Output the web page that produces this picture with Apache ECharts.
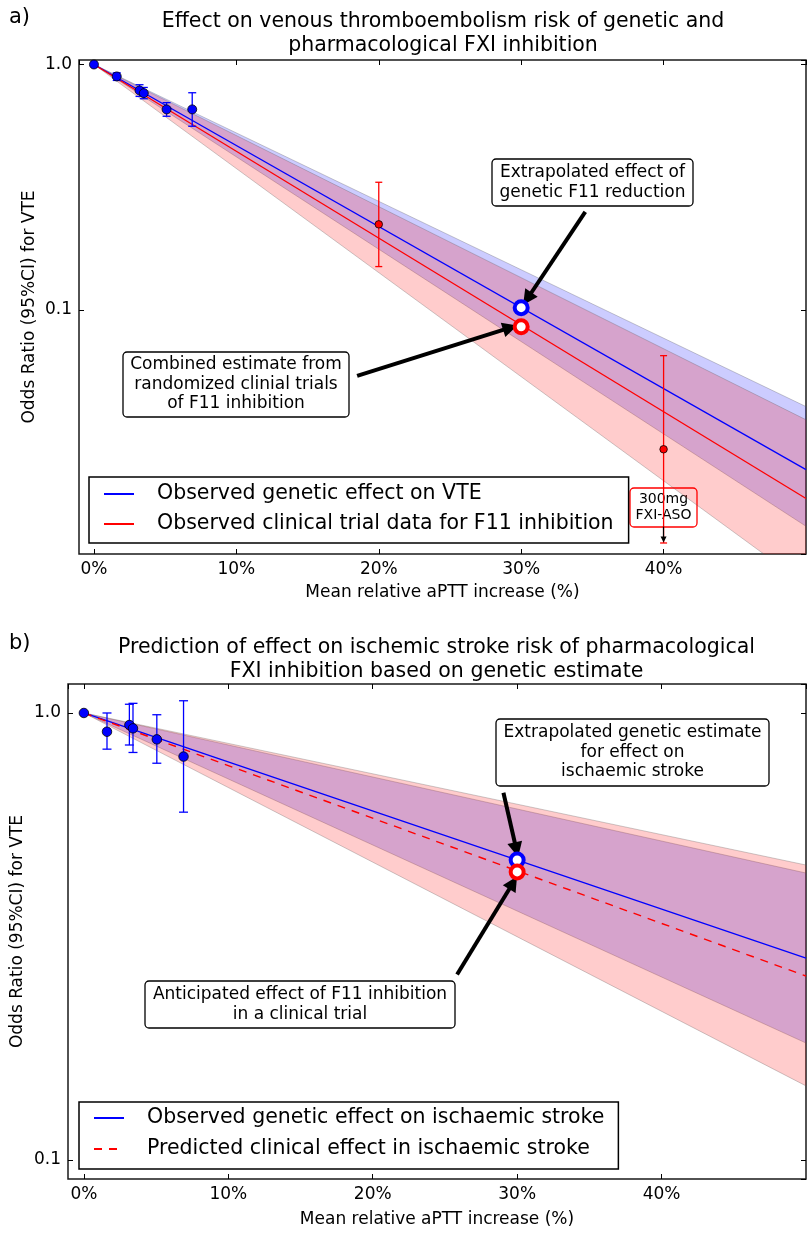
<!DOCTYPE html>
<html>
<head>
<meta charset="utf-8">
<title>FXI inhibition: odds ratio vs aPTT increase</title>
<script src="https://cdn.jsdelivr.net/npm/echarts@6/dist/echarts.min.js"></script>
<style>
  html, body { margin: 0; padding: 0; background: #fff; }
  #main { width: 807px; height: 1234px; }
</style>
</head>
<body>
<div id="main"></div>
<script>
const FONT = 'DejaVu Sans'

// ---- a) venous thromboembolism  (x: mean relative aPTT increase in %, y: odds ratio) ----
const vteGeneticPoints = [[0, 1.0], [1.6, 0.894], [3.2, 0.784], [3.5, 0.764], [5.1, 0.656], [6.9, 0.656]]
const vteGeneticCI = [[1.6, 0.861, 0.925], [3.2, 0.741, 0.827], [3.5, 0.725, 0.806], [5.1, 0.615, 0.699], [6.9, 0.560, 0.767]]
const vteTrialPoints = [[20, 0.223], [40, 0.027]]
const vteTrialCI = [[20, 0.150, 0.331], [40, 0.0112, 0.065]]
const vteGeneticLine = [[0, 1], [50, 0.0223]]
const vteTrialLine = [[0, 1], [50, 0.0170]]
const vteGeneticBand = [[0, 1, 1], [50, 0.0131, 0.0403]]   // x, lower, upper
const vteTrialBand = [[0, 1, 1], [50, 0.00756, 0.0356]]
const vteGeneticAt30 = [[30, 0.102]]
const vteTrialAt30 = [[30, 0.0853]]
const vteArrows = [[[34.5, 0.2507], [30.43, 0.1109]], [[18.48, 0.0538], [29.23, 0.0845]]]
const vteSmallArrow = [[40, 0.01306], [40, 0.01157]]

// ---- b) ischaemic stroke ----
const isGeneticPoints = [[0, 1.0], [1.6, 0.908], [3.15, 0.940], [3.4, 0.924], [5.05, 0.873], [6.9, 0.799]]
const isGeneticCI = [[1.6, 0.830, 1.0], [3.15, 0.848, 1.046], [3.4, 0.816, 1.051], [5.05, 0.772, 0.991], [6.9, 0.600, 1.065]]
const isGeneticLine = [[0, 1], [50, 0.283]]
const isPredLine = [[0, 1], [50, 0.258]]
const isGeneticBand = [[0, 1, 1], [50, 0.1827, 0.4385]]
const isPredBand = [[0, 1, 1], [50, 0.1465, 0.457]]
const isGeneticAt30 = [[30, 0.469]]
const isPredAt30 = [[30, 0.441]]
const isArrows = [[[29.05, 0.663], [29.95, 0.4945]], [[25.84, 0.260], [29.72, 0.417]]]

const BLUE = '#0000ff'
const RED = '#ff0000'

function pctLabel(v) {
  return (v >= 0 && v <= 40 && Math.abs(v / 10 - Math.round(v / 10)) < 1e-9) ? Math.round(v) + '%' : ''
}
function orLabel(v) {
  const l = Math.log10(v)
  return Math.abs(l - Math.round(l)) < 1e-6 ? v.toFixed(1) : ''
}

function xAxisFor(gi, min, pos, nameGap) {
  const main = pos === 'bottom'
  return {
    type: 'value', gridIndex: gi, min: min, max: 50, position: pos,
    name: main ? 'Mean relative aPTT increase (%)' : '',
    nameLocation: 'middle', nameGap: nameGap, nameMoveOverlap: false,
    nameTextStyle: { fontFamily: FONT, fontSize: 17, color: '#000' },
    axisLine: { show: false, onZero: false },
    axisTick: { show: true, inside: true, length: 5, lineStyle: { color: '#000' } },
    splitLine: { show: false },
    axisLabel: { show: main, showMinLabel: false, showMaxLabel: false, margin: 7,
      fontFamily: FONT, fontSize: 17, color: '#000', formatter: pctLabel }
  }
}
function yAxisFor(gi, min, max, pos, nameGap) {
  const main = pos === 'left'
  return {
    type: 'log', logBase: 10, gridIndex: gi, min: min, max: max, position: pos,
    name: main ? 'Odds Ratio (95%CI) for VTE' : '',
    nameLocation: 'middle', nameGap: nameGap, nameMoveOverlap: false,
    nameTextStyle: { fontFamily: FONT, fontSize: 17, color: '#000' },
    axisLine: { show: false, onZero: false },
    axisTick: { show: true, inside: true, length: 5, lineStyle: { color: '#000' } },
    minorTick: { show: false },
    splitLine: { show: false },
    axisLabel: { show: main, showMinLabel: false, showMaxLabel: false, margin: 7,
      fontFamily: FONT, fontSize: 17, color: '#000', formatter: orLabel }
  }
}

function bandSeries(band, fill, ax) {
  return {
    type: 'custom', xAxisIndex: ax, yAxisIndex: ax, clip: true, silent: true, z: 1,
    data: band,
    renderItem: function (params, api) {
      if (params.dataIndex !== 0) return null
      const upper = band.map(r => api.coord([r[0], r[2]]))
      const lower = band.map(r => api.coord([r[0], r[1]])).reverse()
      return {
        type: 'polygon', shape: { points: upper.concat(lower) },
        style: { fill: fill, stroke: 'rgba(90,90,90,0.3)', lineWidth: 1 }
      }
    }
  }
}

function ciSeries(ci, color, ax, cap) {
  return {
    type: 'custom', xAxisIndex: ax, yAxisIndex: ax, silent: true, z: 3,
    data: ci,
    renderItem: function (params, api) {
      const lo = api.coord([api.value(0), api.value(1)])
      const hi = api.coord([api.value(0), api.value(2)])
      const s = { stroke: color, lineWidth: 1.3 }
      return {
        type: 'group', children: [
          { type: 'line', shape: { x1: lo[0], y1: lo[1], x2: hi[0], y2: hi[1] }, style: s },
          { type: 'line', shape: { x1: lo[0] - cap, y1: lo[1], x2: lo[0] + cap, y2: lo[1] }, style: s },
          { type: 'line', shape: { x1: hi[0] - cap, y1: hi[1], x2: hi[0] + cap, y2: hi[1] }, style: s }
        ]
      }
    }
  }
}

function dots(data, color, size, ax) {
  return {
    type: 'scatter', xAxisIndex: ax, yAxisIndex: ax, data: data, symbolSize: size, silent: true, z: 4,
    itemStyle: { color: color, borderColor: '#000', borderWidth: 0.8, opacity: 1 }
  }
}
function ring(data, color, ax) {
  return {
    type: 'scatter', xAxisIndex: ax, yAxisIndex: ax, data: data, symbolSize: 13, silent: true, z: 5,
    itemStyle: { color: '#fff', borderColor: color, borderWidth: 4, opacity: 1 }
  }
}
function arrows(list, width, size) {
  return {
    silent: true, symbol: ['none', 'triangle'], symbolSize: size,
    label: { show: false }, emphasis: { disabled: true },
    lineStyle: { color: '#000', width: width, type: 'solid' },
    data: list.map(a => [{ coord: a[0] }, { coord: a[1] }])
  }
}

function noteBox(x, y, w, h, text, opt) {
  opt = opt || {}
  return {
    type: 'group', x: x, y: y, z: 100,
    children: [
      { type: 'rect', shape: { x: 0, y: 0, width: w, height: h, r: 4 },
        style: { fill: '#fff', stroke: opt.stroke || '#000', lineWidth: 1.3 } },
      { type: 'text', x: w / 2, y: h / 2,
        style: { text: text, fill: '#000', fontFamily: FONT, fontSize: opt.size || 17,
          lineHeight: opt.lh || 19.5, align: 'center', verticalAlign: 'middle' } }
    ]
  }
}
function label(x, y, text, size, align, lh) {
  return {
    type: 'text', x: x, y: y, z: 100,
    style: { text: text, fill: '#000', fontFamily: FONT, fontSize: size,
      lineHeight: lh || size * 1.2, align: align, verticalAlign: 'top' }
  }
}

function legendFor(names, top, left, pad, gap) {
  return {
    data: names, orient: 'vertical', left: left, top: top,
    itemWidth: 30, itemHeight: 14, itemGap: gap, padding: pad,
    borderColor: '#000', borderWidth: 1.5, backgroundColor: '#fff',
    selectedMode: false, z: 50,
    itemStyle: { opacity: 0, borderWidth: 0 },
    formatter: name => '{p| }' + name,
    textStyle: { fontFamily: FONT, fontSize: 20.5, color: '#000', lineHeight: 24, rich: { p: { width: 18 } } }
  }
}

const chart = echarts.init(document.getElementById('main'), null, { renderer: 'canvas' })

chart.setOption({
  animation: false,
  backgroundColor: '#fff',
  grid: [
    { left: 79, top: 60, width: 727, height: 494, show: true, borderColor: '#1a1a1a', borderWidth: 1.5, backgroundColor: 'transparent' },
    { left: 68, top: 684, width: 738, height: 495, show: true, borderColor: '#1a1a1a', borderWidth: 1.5, backgroundColor: 'transparent' }
  ],
  xAxis: [
    xAxisFor(0, -1.05, 'bottom', 30),
    xAxisFor(1, -1.1, 'bottom', 32),
    xAxisFor(0, -1.05, 'top', 0),
    xAxisFor(1, -1.1, 'top', 0)
  ],
  yAxis: [
    yAxisFor(0, 0.0101, 1.043, 'left', 40.5),
    yAxisFor(1, 0.0907, 1.161, 'left', 41.5),
    yAxisFor(0, 0.0101, 1.043, 'right', 0),
    yAxisFor(1, 0.0907, 1.161, 'right', 0)
  ],
  legend: [
    legendFor(['Observed genetic effect on VTE', 'Observed clinical trial data for F11 inhibition'], 477, 89, [5, 15, 7, 14], 6),
    legendFor(['Observed genetic effect on ischaemic stroke', 'Predicted clinical effect in ischaemic stroke'], 1102, 79, [4, 14, 8, 14], 7)
  ],
  graphic: [
    label(9, 5, 'a)', 21, 'left'),
    label(443, 10, 'Effect on venous thromboembolism risk of genetic and\npharmacological FXI inhibition', 20.5, 'center', 24),
    label(9, 631, 'b)', 21, 'left'),
    label(436.5, 636, 'Prediction of effect on ischemic stroke risk of pharmacological\nFXI inhibition based on genetic estimate', 20.5, 'center', 24),
    noteBox(492, 159, 201, 47, 'Extrapolated effect of\ngenetic F11 reduction'),
    noteBox(123, 352, 226, 65, 'Combined estimate from\nrandomized clinial trials\nof F11 inhibition'),
    noteBox(630, 488, 67, 39, '300mg\nFXI-ASO', { stroke: RED, size: 14, lh: 16 }),
    noteBox(496, 719, 273, 67, 'Extrapolated genetic estimate\nfor effect on\nischaemic stroke'),
    noteBox(145, 981, 310, 47, 'Anticipated effect of F11 inhibition\nin a clinical trial')
  ],
  series: [
    // a)
    bandSeries(vteGeneticBand, 'rgba(0,0,255,0.2)', 0),
    bandSeries(vteTrialBand, 'rgba(255,0,0,0.2)', 0),
    {
      name: 'Observed genetic effect on VTE', type: 'line', xAxisIndex: 0, yAxisIndex: 0,
      data: vteGeneticLine, symbol: 'none', silent: true, z: 2,
      lineStyle: { color: BLUE, width: 1.3 }, itemStyle: { color: BLUE },
      markLine: arrows(vteArrows, 4, 15)
    },
    {
      name: 'Observed clinical trial data for F11 inhibition', type: 'line', xAxisIndex: 0, yAxisIndex: 0,
      data: vteTrialLine, symbol: 'none', silent: true, z: 2,
      lineStyle: { color: RED, width: 1.3 }, itemStyle: { color: RED },
      markLine: arrows([vteSmallArrow], 1.2, 6)
    },
    ciSeries(vteGeneticCI, BLUE, 0, 4),
    ciSeries(vteTrialCI, RED, 0, 3.5),
    dots(vteGeneticPoints, BLUE, 9, 0),
    dots(vteTrialPoints, RED, 7.5, 0),
    ring(vteGeneticAt30, BLUE, 0),
    ring(vteTrialAt30, RED, 0),

    // b)
    bandSeries(isGeneticBand, 'rgba(0,0,255,0.2)', 1),
    bandSeries(isPredBand, 'rgba(255,0,0,0.2)', 1),
    {
      name: 'Observed genetic effect on ischaemic stroke', type: 'line', xAxisIndex: 1, yAxisIndex: 1,
      data: isGeneticLine, symbol: 'none', silent: true, z: 2,
      lineStyle: { color: BLUE, width: 1.3 }, itemStyle: { color: BLUE },
      markLine: arrows(isArrows, 4, 15)
    },
    {
      name: 'Predicted clinical effect in ischaemic stroke', type: 'line', xAxisIndex: 1, yAxisIndex: 1,
      data: isPredLine, symbol: 'none', silent: true, z: 2,
      lineStyle: { color: RED, width: 1.4, type: [8, 7] }, itemStyle: { color: RED }
    },
    ciSeries(isGeneticCI, BLUE, 1, 4.5),
    dots(isGeneticPoints, BLUE, 9.5, 1),
    ring(isGeneticAt30, BLUE, 1),
    ring(isPredAt30, RED, 1)
  ]
})
</script>
</body>
</html>
